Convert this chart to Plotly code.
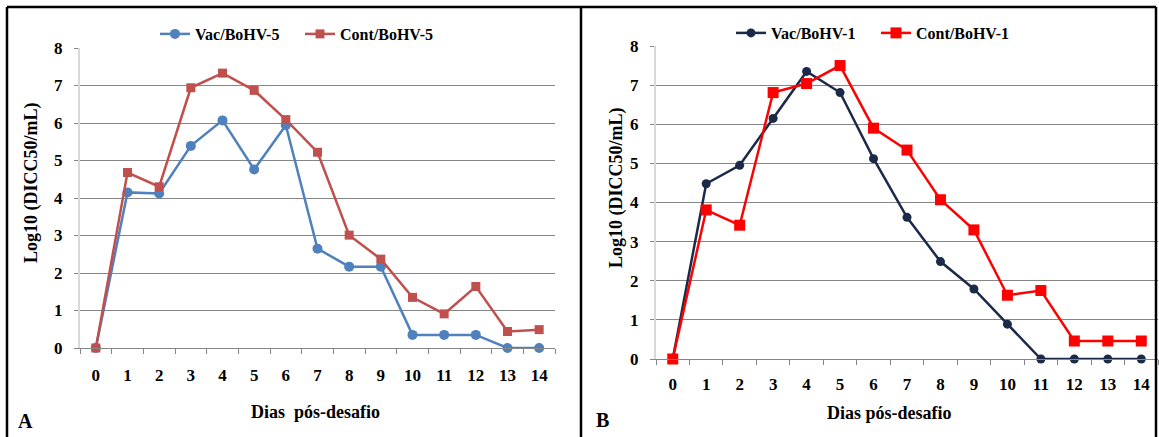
import plotly.graph_objects as go

days = [str(d) for d in range(15)]
vac5 = [0, 4.15, 4.12, 5.39, 6.07, 4.76, 5.94, 2.65, 2.17, 2.17, 0.35, 0.35, 0.35, 0, 0]
cont5 = [0, 4.68, 4.30, 6.94, 7.33, 6.87, 6.09, 5.22, 3.01, 2.37, 1.35, 0.91, 1.64, 0.44, 0.49]
vac1 = [0, 4.48, 4.95, 6.15, 7.35, 6.81, 5.12, 3.62, 2.49, 1.79, 0.89, 0, 0, 0, 0]
cont1 = [0, 3.81, 3.42, 6.81, 7.04, 7.50, 5.90, 5.34, 4.07, 3.30, 1.63, 1.75, 0.46, 0.46, 0.46]
yticks = [0, 1, 2, 3, 4, 5, 6, 7, 8]

W, H = 1159, 437
FONT = "Liberation Serif"

def px(x):
    return x / W

def py(y):
    return (H - y) / H

fig = go.Figure()
fig.add_trace(go.Scatter(x=days, y=vac5, name="Vac/BoHV-5", mode="lines+markers",
                         line=dict(color="#4f81bd", width=2.5),
                         marker=dict(symbol="circle", size=10, color="#4f81bd"),
                         xaxis="x", yaxis="y", legend="legend", cliponaxis=False))
fig.add_trace(go.Scatter(x=days, y=cont5, name="Cont/BoHV-5", mode="lines+markers",
                         line=dict(color="#c0504d", width=2.5),
                         marker=dict(symbol="square", size=9, color="#c0504d"),
                         xaxis="x", yaxis="y", legend="legend", cliponaxis=False))
fig.add_trace(go.Scatter(x=days, y=vac1, name="Vac/BoHV-1", mode="lines+markers",
                         line=dict(color="#1a2a48", width=2.5),
                         marker=dict(symbol="circle", size=9, color="#1a2a48"),
                         xaxis="x2", yaxis="y2", legend="legend2", cliponaxis=False))
fig.add_trace(go.Scatter(x=days, y=cont1, name="Cont/BoHV-1", mode="lines+markers",
                         line=dict(color="#ff0000", width=2.5),
                         marker=dict(symbol="square", size=11, color="#ff0000"),
                         xaxis="x2", yaxis="y2", legend="legend2", cliponaxis=False))

tickfont = dict(family=FONT, size=17, color="black", weight="bold")

def xaxis(domain, anchor, standoff):
    return dict(domain=domain, anchor=anchor, type="category", range=[-0.5, 14.5],
                showgrid=False, showline=True, linecolor="#868686", linewidth=1,
                ticks="outside", tickson="boundaries", ticklen=5, tickcolor="#868686",
                tickfont=tickfont, ticklabelstandoff=standoff, zeroline=False)

def yaxis(domain, anchor):
    return dict(domain=domain, anchor=anchor, range=[0, 8], tickvals=yticks,
                showgrid=True, gridcolor="#868686", gridwidth=1,
                showline=True, linecolor="#d9d9d9", linewidth=2,
                ticks="outside", ticklen=4, tickcolor="#868686",
                tickfont=tickfont, ticklabelstandoff=8, zeroline=False)

legfont = dict(family=FONT, size=16, color="black", weight="bold")
fig.update_layout(
    width=W, height=H, margin=dict(l=0, r=0, t=0, b=0, autoexpand=False),
    plot_bgcolor="white", paper_bgcolor="white",
    xaxis=xaxis([px(80), px(555)], "y", 12),
    yaxis=yaxis([py(348), py(48)], "x"),
    xaxis2=xaxis([px(656), px(1158)], "y2", 10),
    yaxis2=yaxis([py(359), py(46)], "x2"),
    legend=dict(orientation="h", x=px(155), y=py(34), xanchor="left", yanchor="middle",
                font=legfont, bgcolor="rgba(0,0,0,0)", itemwidth=30, tracegroupgap=0,
                entrywidth=100),
    legend2=dict(orientation="h", x=px(731), y=py(33), xanchor="left", yanchor="middle",
                 font=legfont, bgcolor="rgba(0,0,0,0)", itemwidth=30, tracegroupgap=0,
                 entrywidth=100),
)

titlefont = dict(family=FONT, size=18, color="black", weight="bold")
annotations = [
    dict(text="Log10 (DICC50/mL)", x=px(31), y=py(183), textangle=-90),
    dict(text="Log10 (DICC50/mL)", x=px(617), y=py(188), textangle=-90),
    dict(text="Dias  pós-desafio", x=px(315), y=py(412)),
    dict(text="Dias pós-desafio", x=px(889), y=py(413)),
    dict(text="A", x=px(25), y=py(421), font=dict(family=FONT, size=20, color="black", weight="bold")),
    dict(text="B", x=px(603), y=py(420), font=dict(family=FONT, size=20, color="black", weight="bold")),
]
for a in annotations:
    a.setdefault("font", titlefont)
    fig.add_annotation(xref="paper", yref="paper", showarrow=False,
                       xanchor="center", yanchor="middle", **a)

border = dict(color="black", width=2.5)
for (x0, y0, x1, y1) in [(7, 7, 1156, 7), (7, 7, 7, 437), (581, 7, 581, 437), (1156, 7, 1156, 437)]:
    fig.add_shape(type="line", xref="paper", yref="paper",
                  x0=px(x0), y0=py(y0), x1=px(x1), y1=py(y1), line=border)

post = ("document.documentElement.style.margin='0';"
        "document.body.style.margin='0';document.body.style.padding='0';"
        "document.body.style.overflow='hidden';"
        "var d=document.getElementById('{plot_id}');"
        "d.style.position='fixed';d.style.left='0px';d.style.top='0px';")
fig.write_html("out.html", config={"displayModeBar": False}, post_script=post)
